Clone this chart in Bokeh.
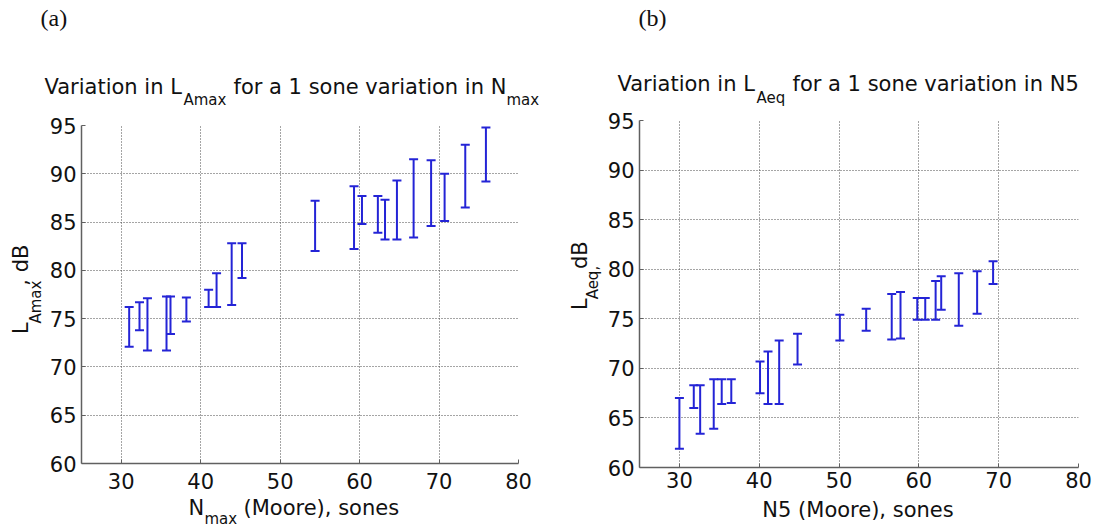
import math
from bokeh.plotting import figure
from bokeh.models import ColumnDataSource, Whisker, TeeHead, Label, Range1d, FixedTicker
from bokeh.layouts import row, column
from bokeh.embed import file_html
from bokeh.resources import INLINE

# ---------------- data ----------------
# panel (a): L_Amax vs N_max
xa = [31.0, 32.3, 33.3, 35.7, 36.2, 38.2, 41.0, 42.0, 43.9, 45.2, 54.4,
      59.3, 60.3, 62.3, 63.2, 64.7, 66.8, 69.0, 70.7, 73.3, 75.9]
upper_a = [76.2, 76.7, 77.1, 77.3, 77.3, 77.2, 78.0, 79.7, 82.8, 82.8, 87.2,
           88.7, 87.7, 87.7, 87.3, 89.3, 91.5, 91.4, 90.0, 93.0, 94.8]
lower_a = [72.1, 73.8, 71.7, 71.7, 73.4, 74.7, 76.2, 76.2, 76.4, 79.2, 82.0,
           82.2, 84.8, 83.9, 83.2, 83.2, 83.4, 84.6, 85.1, 86.5, 89.2]

# panel (b): L_Aeq vs N5
xb = [30.0, 31.8, 32.6, 34.3, 35.3, 36.5, 40.1, 41.1, 42.5, 44.8, 50.1,
      53.4, 56.6, 57.7, 59.8, 60.8, 62.1, 62.8, 65.0, 67.3, 69.3]
upper_b = [67.0, 68.3, 68.3, 68.9, 68.9, 68.9, 70.7, 71.7, 72.8, 73.5, 75.4,
           76.0, 77.5, 77.7, 77.1, 77.1, 78.8, 79.3, 79.6, 79.8, 80.8]
lower_b = [61.9, 66.0, 63.4, 63.9, 66.4, 66.5, 67.5, 66.4, 66.4, 70.4, 72.8,
           73.8, 72.9, 73.0, 74.9, 74.9, 74.9, 75.9, 74.3, 75.5, 78.5]

x_ticks = [30, 40, 50, 60, 70, 80]
y_ticks = [60, 65, 70, 75, 80, 85, 90, 95]

FONT = "DejaVu Sans"
SERIF = "Liberation Serif"
BLUE = "#2424d6"
TXT = "#111111"
ROT = math.pi / 2
BASE_FIX = 0.36  # raise label anchor so the drawn baseline lands where intended


def make_chart(width, height, bl, br, bt, bb, xstand):
    p = figure(width=width, height=height, output_backend="svg", toolbar_location=None,
               x_range=Range1d(25, 80), y_range=Range1d(60, 95),
               min_border_left=bl, min_border_right=br, min_border_top=bt, min_border_bottom=bb)
    p.outline_line_color = None
    p.xaxis.ticker = FixedTicker(ticks=x_ticks)
    p.yaxis.ticker = FixedTicker(ticks=y_ticks)
    for ax in (p.xaxis, p.yaxis):
        ax.axis_line_color = "#606060"
        ax.axis_line_width = 1.5
        ax.major_tick_line_color = "#606060"
        ax.major_tick_in = 4
        ax.major_tick_out = 0
        ax.minor_tick_line_color = None
        ax.major_label_text_font = FONT
        ax.major_label_text_font_size = "21px"
        ax.major_label_text_color = TXT
    p.xaxis.major_label_standoff = xstand
    p.yaxis.major_label_standoff = 5
    for g in (p.xgrid, p.ygrid):
        g.grid_line_color = "#4a4a4a"
        g.grid_line_dash = "1 2"
        g.grid_line_width = 1
        g.grid_line_alpha = 1.0
    return p


def add_bars(p, xs, lo, hi):
    src = ColumnDataSource(dict(x=xs, lower=lo, upper=hi))
    w = Whisker(source=src, base="x", lower="lower", upper="upper", dimension="height",
                line_color=BLUE, line_width=2,
                upper_head=TeeHead(size=9, line_color=BLUE, line_width=2),
                lower_head=TeeHead(size=9, line_color=BLUE, line_width=2))
    p.add_layout(w)


def text_fig(w, h):
    f = figure(width=w, height=h, x_range=Range1d(0, w), y_range=Range1d(0, h),
               output_backend="svg", toolbar_location=None,
               x_axis_location=None, y_axis_location=None, min_border=0)
    f.outline_line_color = None
    f.grid.visible = False
    return f


def txt(f, s, x, y, size=21, angle=0.0, align="left", font=FONT):
    d = BASE_FIX * size
    if angle == 0.0:
        y = y + d
    else:
        x = x - d
    f.add_layout(Label(x=x, y=y, text=s, text_font=font, text_font_size=f"{size}px",
                       text_color=TXT, angle=angle, text_align=align,
                       text_baseline="alphabetic"))


# ---------------- panel (a) ----------------
ta = text_fig(548, 113)
txt(ta, "(a)", 40, 87, size=24, font=SERIF)
txt(ta, "Variation in L", 44, 19)
txt(ta, "Amax", 183, 8, size=15)
txt(ta, "for a 1 sone variation in N", 233, 19)
txt(ta, "max", 506, 8, size=15)

ya = text_fig(46, 384)
txt(ya, "L", 28, 147, angle=ROT)
txt(ya, "Amax", 41, 159, size=15, angle=ROT)
txt(ya, ", dB", 28, 202, angle=ROT)

pa = make_chart(502, 384, 33, 30, 12, 34, 9)
add_bars(pa, xa, lower_a, upper_a)

xla = text_fig(548, 32)
txt(xla, "N", 188, 14)
txt(xla, "max", 204, 5, size=15)
txt(xla, "(Moore), sones", 243, 14)

col_a = column(ta, row(ya, pa, spacing=0), xla, spacing=0)

# ---------------- panel (b) ----------------
tb = text_fig(552, 108)
txt(tb, "(b)", 90, 82, size=24, font=SERIF)
txt(tb, "Variation in L", 69, 17)
txt(tb, "Aeq", 208, 5, size=15)
txt(tb, "for a 1 sone variation in N5", 244, 17)

yb = text_fig(56, 388)
txt(yb, "L", 39, 176, angle=ROT)
txt(yb, "Aeq,", 50, 188, size=15, angle=ROT)
txt(yb, "dB", 39, 222, angle=ROT)

pb = make_chart(496, 388, 33, 22, 12, 29, 4)
add_bars(pb, xb, lower_b, upper_b)

xlb = text_fig(552, 33)
txt(xlb, "N5 (Moore), sones", 309.5, 12, align="center")

col_b = column(tb, row(yb, pb, spacing=0), xlb, spacing=0)

layout = row(col_a, col_b, spacing=0)
open("out.html", "w").write(file_html(layout, INLINE))
